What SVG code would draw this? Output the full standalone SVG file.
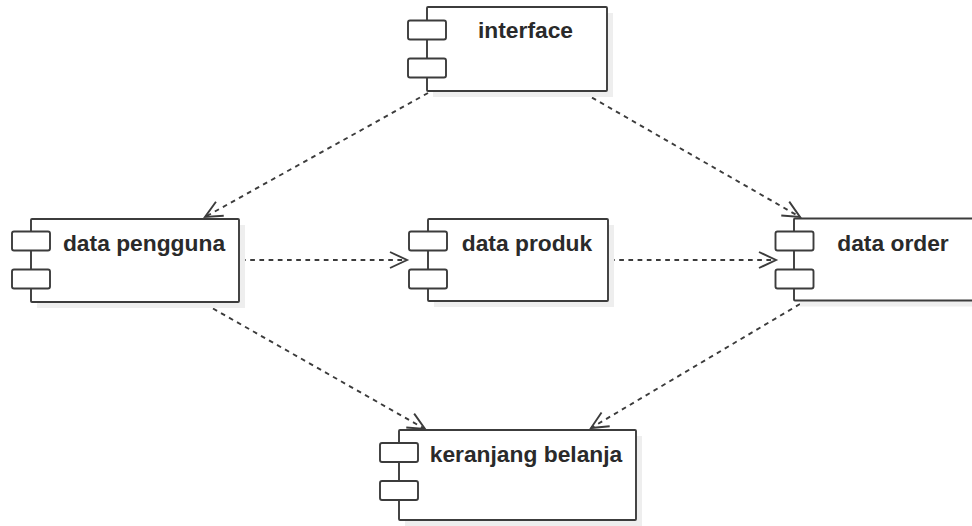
<svg xmlns="http://www.w3.org/2000/svg" width="972" height="526" viewBox="0 0 972 526">
<style>
.shadow{fill:#eeeeee;stroke:none}
.body{fill:#ffffff;stroke:#3c3c3c;stroke-width:1.9}
.jetty{fill:#ffffff;stroke:#3c3c3c;stroke-width:1.9}
.label{font-family:"Liberation Sans",Arial,sans-serif;font-weight:bold;font-size:22.8px;fill:#2a2a2a;text-anchor:middle}
.edge{fill:none;stroke:#3c3c3c;stroke-width:1.9;stroke-dasharray:4.7 4.5}
</style>
<defs>
<marker id="open" markerUnits="userSpaceOnUse" viewBox="-20 -11 23 22" markerWidth="23" markerHeight="22" refX="0" refY="0" orient="auto">
<path d="M-17,-8 L0,0 L-17,8" fill="none" stroke="#3c3c3c" stroke-width="1.9" stroke-dasharray="none"/>
</marker>
</defs>
<rect width="972" height="526" fill="#ffffff"/>
<g id="connectors">
<line class="edge" x1="428" y1="93" x2="205" y2="217" marker-end="url(#open)"/>
<line class="edge" x1="584" y1="93" x2="800" y2="217" marker-end="url(#open)"/>
<line class="edge" x1="241" y1="260" x2="407" y2="260" marker-end="url(#open)"/>
<line class="edge" x1="610" y1="260" x2="776" y2="260" marker-end="url(#open)"/>
<line class="edge" x1="205" y1="304" x2="425" y2="429" marker-end="url(#open)"/>
<line class="edge" x1="800" y1="304" x2="591" y2="428" marker-end="url(#open)"/>
</g>
<g id="interface">
<rect class="shadow" x="433" y="13" width="180" height="84"/>
<rect class="body" x="427" y="7" width="180" height="84" rx="1"/>
<rect class="jetty" x="408" y="20.5" width="38" height="19" rx="2"/>
<rect class="jetty" x="408" y="58.5" width="38" height="19" rx="2"/>
<text class="label" x="525.5" y="38">interface</text>
</g>
<g id="data-pengguna">
<rect class="shadow" x="37" y="225" width="208" height="83"/>
<rect class="body" x="31" y="219" width="208" height="83" rx="1"/>
<rect class="jetty" x="12" y="231.5" width="38" height="19" rx="2"/>
<rect class="jetty" x="12" y="269.5" width="38" height="19" rx="2"/>
<text class="label" x="144" y="251">data pengguna</text>
</g>
<g id="data-produk">
<rect class="shadow" x="434" y="225" width="180" height="82"/>
<rect class="body" x="428" y="219" width="180" height="82" rx="1"/>
<rect class="jetty" x="409" y="231.5" width="38" height="19" rx="2"/>
<rect class="jetty" x="409" y="269.5" width="38" height="19" rx="2"/>
<text class="label" x="527" y="251">data produk</text>
</g>
<g id="data-order">
<rect class="shadow" x="800" y="224.5" width="182" height="82"/>
<rect class="body" x="794" y="218.5" width="182" height="82" rx="1"/>
<rect class="jetty" x="775.5" y="231.5" width="38" height="19" rx="2"/>
<rect class="jetty" x="775.5" y="269.5" width="38" height="19" rx="2"/>
<text class="label" x="893" y="251">data order</text>
</g>
<g id="keranjang-belanja">
<rect class="shadow" x="405" y="436" width="237" height="90"/>
<rect class="body" x="399" y="430" width="237" height="90" rx="1"/>
<rect class="jetty" x="380" y="443" width="38" height="19" rx="2"/>
<rect class="jetty" x="380" y="481" width="38" height="19" rx="2"/>
<text class="label" x="526" y="462">keranjang belanja</text>
</g>
</svg>
